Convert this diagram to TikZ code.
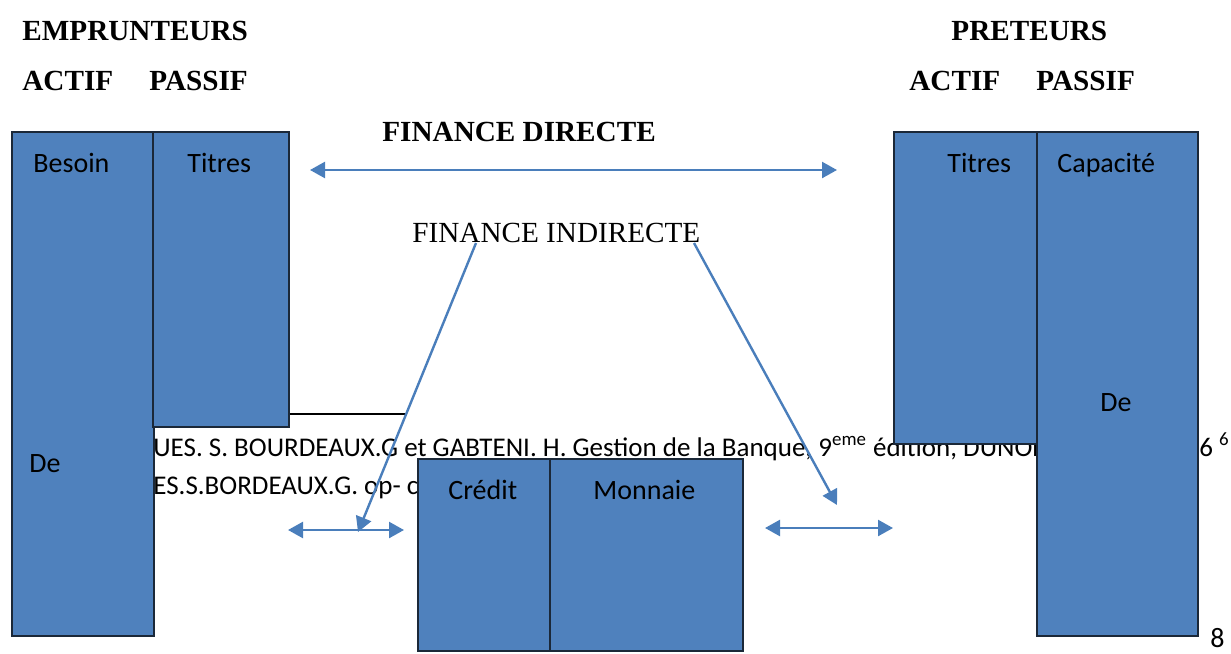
\documentclass[tikz,border=0pt]{standalone}
\usepackage{fontspec}
\setmainfont{Liberation Serif}
\newfontfamily\calibri{Carlito}
\usetikzlibrary{arrows.meta}
\definecolor{bleu}{HTML}{4F81BD}
\definecolor{bord}{HTML}{1B2838}
\definecolor{fleche}{HTML}{4A7EBB}
\tikzset{bloc/.style={draw=bord,line width=1.2pt,fill=bleu,anchor=north west,inner sep=0pt},
         lbl/.style={font=\calibri\fontsize{14}{16}\selectfont,anchor=base west,inner sep=0pt},
         note/.style={font=\calibri\fontsize{13.5}{15}\selectfont,anchor=base west,inner sep=0pt},
         titre/.style={font=\bfseries\fontsize{14.6}{17}\selectfont,anchor=base west,inner sep=0pt},
         fl/.style={draw=fleche,line width=1.2pt,-{Triangle[length=7.5pt,width=8pt]}},
         dfl/.style={draw=fleche,line width=1.2pt,{Triangle[length=7.5pt,width=8pt]}-{Triangle[length=7.5pt,width=8pt]}}}

\begin{document}
\begin{tikzpicture}[x=0.5pt,y=-0.5pt]
\useasboundingbox (0,0) rectangle (1231,653);
% en-tetes
\node[titre] (empr) at (22,40) {EMPRUNTEURS};
\node[titre] (pret) at (951,40) {PRETEURS};
\foreach \nom/\x/\txt in {actE/22/ACTIF,pasE/149/PASSIF,actP/909/ACTIF,pasP/1036/PASSIF}
  \node[titre] (\nom) at (\x,90) {\txt};
\node[titre] (directe) at (382,141) {FINANCE DIRECTE};
\node[titre,font=\fontsize{14.6}{17}\selectfont] (indirecte) at (412,242) {FINANCE INDIRECTE};
% notes de bas de page (sous les blocs)
\node[note] (note1) at (153,456) {UES. S. BOURDEAUX.G et GABTENI. H. Gestion de la Banque, 9\textsuperscript{eme} édition, DUNOD};
\node[note] (note1b) at (1199,456) {6 \textsuperscript{6}};
\node[note] (note2) at (153,494) {ES.S.BORDEAUX.G. op- cit};
\node[lbl] (page) at (1210,647) {8};
% blocs
\node[bloc,minimum width=71pt,minimum height=252pt] (besoin) at (11,131) {};
\node[bloc,minimum width=68pt,minimum height=147.5pt] (titresE) at (152,131) {};
\node[bloc,minimum width=71.5pt,minimum height=156pt] (titresP) at (893,131) {};
\node[bloc,minimum width=80.5pt,minimum height=252pt] (capacite) at (1036,131) {};
\node[bloc,minimum width=66pt,minimum height=96pt] (credit) at (417,458) {};
\node[bloc,minimum width=96.5pt,minimum height=96pt] (monnaie) at (549,458) {};
% textes des blocs
\node[lbl] (tBesoin) at (33,172) {Besoin};
\node[lbl] (tTitresE) at (187,172) {Titres};
\node[lbl] (tTitresP) at (947,172) {Titres};
\node[lbl] (tCapacite) at (1057,172) {Capacité};
\node[lbl] (tDeE) at (29,472) {De};
\node[lbl] (tDeP) at (1100,411) {De};
\node[lbl] (tCredit) at (448,499) {Crédit};
\node[lbl] (tMonnaie) at (593,499) {Monnaie};
% trait
\coordinate (trait) at (406,414);
\draw[line width=1pt] (titresE.east |- trait) -- (trait);
% fleches
\coordinate (dA) at (310,170);
\coordinate (dB) at (837,170);
\coordinate (iG) at (476,243);
\coordinate (fG) at (358,532);
\coordinate (iD) at (694,243);
\coordinate (fD) at (837,505);
\coordinate (gA) at (288,530);
\coordinate (gB) at (404,530);
\coordinate (hA) at (765,528);
\coordinate (hB) at (893,528);
\draw[dfl] (dA) -- (dB);
\draw[fl] (iG) -- (fG);
\draw[fl] (iD) -- (fD);
\draw[dfl] (gA) -- (gB);
\draw[dfl] (hA) -- (hB);
\end{tikzpicture}
\end{document}
